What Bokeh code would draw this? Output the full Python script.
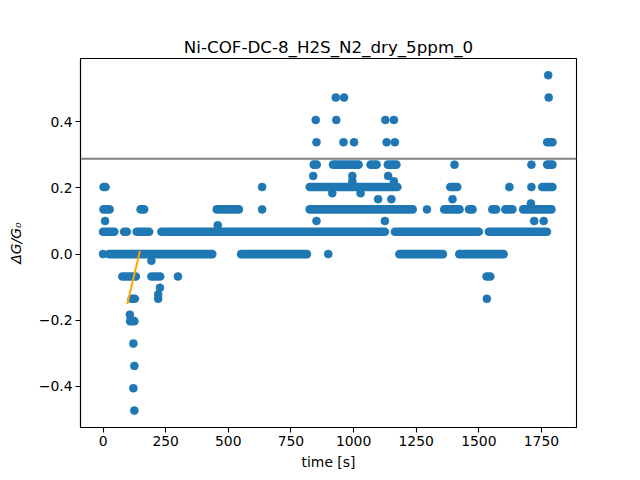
from bokeh.plotting import figure
from bokeh.models import Range1d, Span, FixedTicker
from bokeh.embed import file_html
from bokeh.resources import INLINE

# ---- data (time [s], dG/G0) ----
# constant-level runs of consecutive samples: start time, end time, level
run_t0 = [24, 551, 1183, 1422,
          0, 84, 134, 233, 1165, 1540,
          2, 150, 454, 825, 1362, 1461, 1554, 1606, 1677,
          2, 825, 1386, 1753,
          841, 918, 1068, 1137, 1773,
          1773,
          77, 193, 1531,
          114,
          108]
run_t1 = [436, 814, 1357, 1599,
          45, 95, 184, 1125, 1500, 1772,
          26, 164, 542, 1236, 1423, 1475, 1569, 1634, 1790,
          10, 1175, 1414, 1794,
          853, 1020, 1092, 1171, 1794,
          1794,
          131, 228, 1546,
          127,
          125]
run_val = [0.0, 0.0, 0.0, 0.0,
           0.0676, 0.0676, 0.0676, 0.0676, 0.0676, 0.0676,
           0.1351, 0.1351, 0.1351, 0.1351, 0.1351, 0.1351, 0.1351, 0.1351, 0.1351,
           0.2027, 0.2027, 0.2027, 0.2027,
           0.2703, 0.2703, 0.2703, 0.2703, 0.2703,
           0.3378,
           -0.0676, -0.0676, -0.0676,
           -0.1351,
           -0.2027]

# isolated samples
pt_t = [0, 899,
        635, 1293,
        635, 1622, 1710,
        1403, 1710,
        852, 960, 1002, 1132, 1165,
        849, 931, 1127, 1161,
        929, 962, 1779,
        1777,
        839, 995, 1138, 995, 1161, 915, 1028, 1098, 1151, 1395, 1708,
        8, 852, 1125, 1721, 1759, 458,
        193, 227, 220,
        299, 220, 1532, 107, 121, 125, 121, 125]
pt_val = [0.0, 0.0,
          0.1351, 0.1351,
          0.2027, 0.2027, 0.2027,
          0.2703, 0.2703,
          0.3378, 0.3378, 0.3378, 0.3378, 0.3378,
          0.4054, 0.4054, 0.4054, 0.4054,
          0.4730, 0.4730, 0.4730,
          0.5405,
          0.236, 0.236, 0.236, 0.22, 0.22, 0.184, 0.184, 0.166, 0.166, 0.166, 0.153,
          0.1, 0.1, 0.1, 0.1, 0.1, 0.087,
          -0.02, -0.102, -0.122,
          -0.0676, -0.1351, -0.1351, -0.183, -0.2703, -0.3378, -0.4054, -0.4730]

fit_t = [97, 147]
fit_val = [-0.151, 0.009]
threshold = 0.288

x_ticks = [0, 250, 500, 750, 1000, 1250, 1500, 1750]
y_ticks = [-0.4, -0.2, 0.0, 0.2, 0.4]
y_tick_labels = ["\u22120.4", "\u22120.2", "0.0", "0.2", "0.4"]

BLUE = "#1f77b4"
FONT = "DejaVu Sans"

p = figure(width=640, height=480, output_backend="svg", toolbar_location=None,
           x_range=Range1d(-90, 1890), y_range=Range1d(-0.524, 0.591),
           title="Ni-COF-DC-8_H2S_N2_dry_5ppm_0",
           min_border_left=80, min_border_right=64, min_border_top=58,
           min_border_bottom=53)
p.background_fill_color = "white"
p.border_fill_color = "white"
p.outline_line_color = "black"
p.outline_line_width = 1.1
p.grid.visible = False

p.title.align = "center"
p.title.text_font = FONT
p.title.text_font_size = "16.7px"
p.title.text_font_style = "normal"
p.title.text_color = "black"
p.title.standoff = 4

for ax in (p.xaxis[0], p.yaxis[0]):
    ax.major_label_text_font = FONT
    ax.major_label_text_font_size = "13.9px"
    ax.major_label_text_color = "black"
    ax.axis_label_text_font = FONT
    ax.axis_label_text_font_size = "13.9px"
    ax.axis_label_text_color = "black"
    ax.axis_label_text_font_style = "normal"
    ax.major_tick_out = 5
    ax.major_tick_in = 0
    ax.minor_tick_out = 0
    ax.minor_tick_in = 0
    ax.axis_line_color = "black"
    ax.axis_line_width = 1.1
    ax.major_tick_line_color = "black"
    ax.major_tick_line_width = 1.1
    ax.major_label_standoff = 3

p.xaxis[0].ticker = FixedTicker(ticks=x_ticks)
p.yaxis[0].ticker = FixedTicker(ticks=y_ticks)
p.yaxis[0].major_label_overrides = {t: s for t, s in zip(y_ticks, y_tick_labels)}
p.xaxis[0].axis_label = "time [s]"
p.xaxis[0].axis_label_standoff = 5
p.yaxis[0].axis_label = "\u0394G/G\u2080"
p.yaxis[0].axis_label_text_font_style = "italic"
p.yaxis[0].axis_label_standoff = 12

# sample runs (consecutive overlapping markers) and isolated samples
p.segment(x0=run_t0, y0=run_val, x1=run_t1, y1=run_val, line_color=BLUE,
          line_width=8.6, line_cap="round")
p.scatter(x=pt_t, y=pt_val, size=8.0, fill_color=BLUE, line_color=BLUE,
          line_width=0.6)

p.line(x=fit_t, y=fit_val, line_color="orange", line_width=2.0)
p.add_layout(Span(location=threshold, dimension="width", line_color="gray",
                  line_width=2.0))

open("out.html", "w").write(file_html(p, INLINE))
